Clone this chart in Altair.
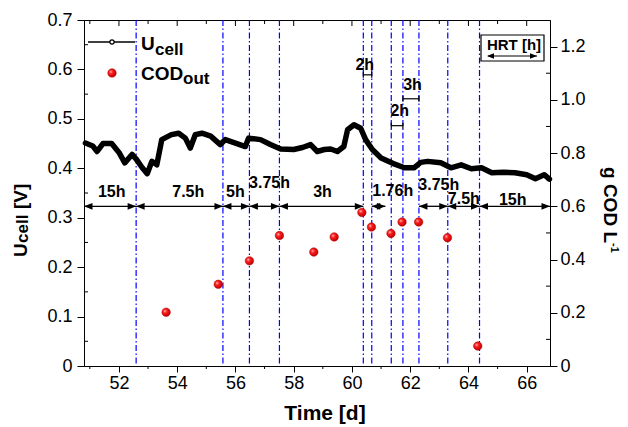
import altair as alt
import pandas as pd

# ---------------- data ----------------
u_days = [50.85, 51.1, 51.25, 51.45, 51.75, 52.0, 52.2, 52.45, 52.6, 52.8,
          52.97, 53.13, 53.3, 53.47, 53.8, 54.05, 54.28, 54.45, 54.62, 54.85,
          55.15, 55.48, 55.65, 56.0, 56.34, 56.45, 56.86, 57.2, 57.55, 58.0,
          58.3, 58.58, 58.81, 59.05, 59.27, 59.5, 59.72, 59.85, 60.07, 60.3,
          60.47, 60.7, 61.0, 61.4, 61.8, 62.13, 62.36, 62.6, 63.05, 63.4,
          63.75, 64.1, 64.45, 64.8, 65.2, 65.6, 66.0, 66.3, 66.6, 66.78]
u_cell = [0.451, 0.445, 0.434, 0.450, 0.450, 0.432, 0.411, 0.428, 0.418, 0.401,
          0.389, 0.414, 0.407, 0.458, 0.468, 0.471, 0.461, 0.441, 0.468, 0.471,
          0.465, 0.448, 0.458, 0.451, 0.444, 0.461, 0.458, 0.448, 0.439, 0.438,
          0.442, 0.448, 0.434, 0.438, 0.439, 0.434, 0.444, 0.478, 0.488, 0.481,
          0.458, 0.438, 0.421, 0.410, 0.401, 0.401, 0.412, 0.414, 0.411, 0.401,
          0.407, 0.399, 0.401, 0.391, 0.392, 0.391, 0.387, 0.379, 0.387, 0.378]

cod_days = [53.62, 55.41, 56.48, 57.51, 58.69, 59.39, 60.34, 60.67, 61.34,
            61.72, 62.29, 63.28, 64.32]
cod_out = [0.202, 0.307, 0.395, 0.490, 0.428, 0.485, 0.577, 0.522, 0.498,
           0.541, 0.541, 0.482, 0.075]

hrt_change_days = [52.59, 55.57, 56.48, 57.51, 60.39, 60.68, 61.35, 61.75,
                   62.30, 63.29, 64.38]

# HRT periods drawn as double arrows (g COD/L scale level 0.6)
period_start = [50.8, 52.59, 55.57, 56.48, 57.51, 60.68, 62.30, 63.29, 64.38]
period_end = [52.59, 55.57, 56.48, 57.51, 60.39, 61.15, 63.29, 64.38, 66.8]
period_label = ["15h", "7.5h", "5h", "3.75h", "3h", "1.76h", "3.75h", "7.5h", "15h"]
period_level = 0.6
# label anchors (data coordinates)
period_label_day = [51.75, 54.38, 56.0, 57.17, 58.99, 61.40, 62.98, 63.84, 65.52]
period_label_lvl = [0.652, 0.652, 0.652, 0.689, 0.652, 0.657, 0.679, 0.626, 0.622]

# short periods drawn as small brackets
short_start = [60.39, 61.35, 61.75]
short_end = [60.68, 61.75, 62.30]
short_label = ["2h", "2h", "3h"]
short_level = [1.094, 0.903, 1.004]
short_label_day = [60.44, 61.64, 62.08]
short_label_lvl = [1.131, 0.957, 1.054]

x_ticks = [52, 54, 56, 58, 60, 62, 64, 66]
x_minor = [51, 53, 55, 57, 59, 61, 63, 65]
left_ticks = [0, 0.1, 0.2, 0.3, 0.4, 0.5, 0.6, 0.7]
left_minor = [0.05, 0.15, 0.25, 0.35, 0.45, 0.55, 0.65]
right_ticks = [0, 0.2, 0.4, 0.6, 0.8, 1.0, 1.2]
right_minor = [0.1, 0.3, 0.5, 0.7, 0.9, 1.1]

assert len(u_days) == len(u_cell)

# ---------------- styling ----------------
W, H = 466, 346
FONT = "Liberation Sans"
BLUE = "#0000ff"
RIGHT_ARROW = "M0,0L-1,-0.4L-1,0.4Z"
LEFT_ARROW = "M0,0L1,-0.4L1,0.4Z"
VBAR = "M0,-1L0,1"

xscale = alt.Scale(domain=[50.8, 66.8], nice=False, zero=False)
yL = alt.Scale(domain=[0, 0.7], nice=False, zero=False)
yR = alt.Scale(domain=[0, 1.3], nice=False, zero=False)

x_axis = alt.Axis(values=x_ticks, format="d", tickSize=6, labelPadding=2,
                  title=None, grid=False)
left_axis = alt.Axis(orient="left", values=left_ticks, tickSize=7, labelPadding=5,
                     labelExpr="datum.value == 0 ? '0' : format(datum.value, '.1f')",
                     title=None, grid=False)
right_axis = alt.Axis(orient="right", values=right_ticks, tickSize=7, labelPadding=3,
                      labelExpr="datum.value == 0 ? '0' : format(datum.value, '.1f')",
                      title=None, grid=False)

X = lambda f: alt.X(f, scale=xscale, axis=x_axis)
YL = lambda f: alt.Y(f, scale=yL, axis=left_axis)
YR = lambda f: alt.Y(f, scale=yR, axis=right_axis)

one = pd.DataFrame({"k": [0]})


def txt(s, x, y, size, bold=True, angle=0, align="left", baseline="alphabetic"):
    kw = dict(text=s, font=FONT, fontSize=size, fontWeight="bold" if bold else "normal",
              align=align, baseline=baseline, color="black")
    if angle:
        kw["angle"] = angle
    return alt.Chart(one).mark_text(**kw).encode(x=alt.value(x), y=alt.value(y))


# ---------------- left (Ucell) group ----------------
vlines = alt.Chart(pd.DataFrame({"d": hrt_change_days})).mark_rule(
    color=BLUE, strokeWidth=1.2, strokeDash=[6, 2.5, 1.5, 2.5]
).encode(x=X("d:Q"))

u_df = pd.DataFrame({"day": u_days, "u": u_cell})
uline = alt.Chart(u_df).mark_line(
    color="black", strokeWidth=5.5, strokeJoin="round", strokeCap="round"
).encode(x=X("day:Q"), y=YL("u:Q"))

lminor = alt.Chart(pd.DataFrame({"u": left_minor})).mark_rule(color="black").encode(
    y=YL("u:Q"), x=alt.value(0), x2=alt.value(4))

top_major = alt.Chart(pd.DataFrame({"day": x_ticks})).mark_rule(color="black").encode(
    x=X("day:Q"), y=alt.value(0), y2=alt.value(6))
top_minor = alt.Chart(pd.DataFrame({"day": x_minor})).mark_rule(color="black").encode(
    x=X("day:Q"), y=alt.value(0), y2=alt.value(4))
bot_minor = alt.Chart(pd.DataFrame({"day": x_minor})).mark_rule(color="black").encode(
    x=X("day:Q"), y=alt.value(H), y2=alt.value(H + 3))

left_group = alt.layer(vlines, uline, lminor, top_major, top_minor, bot_minor)

# ---------------- right (COD) group ----------------
grad = {"gradient": "radial", "x1": 0.35, "y1": 0.35, "r1": 0.0,
        "x2": 0.4, "y2": 0.4, "r2": 0.6,
        "stops": [{"offset": 0, "color": "#ffd0d0"},
                  {"offset": 0.35, "color": "#ff2020"},
                  {"offset": 1, "color": "#c00000"}]}

cod_df = pd.DataFrame({"day": cod_days, "v": cod_out})
cod_pts = alt.Chart(cod_df).mark_point(
    shape="circle", filled=True, fill=grad, size=72, opacity=1, stroke="#b00000", strokeWidth=0.5
).encode(x=X("day:Q"), y=YR("v:Q"))

per_df = pd.DataFrame({"s": period_start, "e": period_end, "lvl": [period_level] * len(period_start),
                       "label": period_label, "lx": period_label_day, "ly": period_label_lvl})
per_rule = alt.Chart(per_df).mark_rule(color="black", strokeWidth=1.3).encode(
    x=X("s:Q"), x2="e:Q", y=YR("lvl:Q"))
per_head_r = alt.Chart(per_df).mark_point(shape=RIGHT_ARROW, filled=True, color="black",
                                          size=289, opacity=1).encode(x=X("e:Q"), y=YR("lvl:Q"))
per_head_l = alt.Chart(per_df).mark_point(shape=LEFT_ARROW, filled=True, color="black",
                                          size=289, opacity=1).encode(x=X("s:Q"), y=YR("lvl:Q"))
per_text = alt.Chart(per_df).mark_text(font=FONT, fontSize=16, fontWeight="bold",
                                       align="center", baseline="middle", color="black").encode(
    x=X("lx:Q"), y=YR("ly:Q"), text="label:N")

sh_df = pd.DataFrame({"s": short_start, "e": short_end, "lvl": short_level,
                      "label": short_label, "lx": short_label_day, "ly": short_label_lvl})
sh_rule = alt.Chart(sh_df).mark_rule(color="black", strokeWidth=1.2).encode(
    x=X("s:Q"), x2="e:Q", y=YR("lvl:Q"))
sh_end_a = alt.Chart(sh_df).mark_point(shape=VBAR, filled=False, color="black", size=36,
                                       strokeWidth=1.2, opacity=1).encode(x=X("s:Q"), y=YR("lvl:Q"))
sh_end_b = alt.Chart(sh_df).mark_point(shape=VBAR, filled=False, color="black", size=36,
                                       strokeWidth=1.2, opacity=1).encode(x=X("e:Q"), y=YR("lvl:Q"))
sh_text = alt.Chart(sh_df).mark_text(font=FONT, fontSize=16, fontWeight="bold",
                                     align="center", baseline="middle", color="black").encode(
    x=X("lx:Q"), y=YR("ly:Q"), text="label:N")

rminor = alt.Chart(pd.DataFrame({"v": right_minor})).mark_rule(color="black").encode(
    y=YR("v:Q"), x=alt.value(W - 4), x2=alt.value(W))

# legend
leg_line = alt.Chart(one).mark_rule(color="black", strokeWidth=1.5).encode(
    x=alt.value(4), x2=alt.value(51), y=alt.value(22))
leg_circ = alt.Chart(one).mark_point(shape="circle", filled=True, fill="white", stroke="black",
                                     strokeWidth=1.2, size=18, opacity=1).encode(
    x=alt.value(28), y=alt.value(22))
leg_red = alt.Chart(one).mark_point(shape="circle", filled=True, fill=grad, stroke="#b00000",
                                    strokeWidth=0.5, size=72, opacity=1).encode(
    x=alt.value(28), y=alt.value(53))
leg_texts = [txt("U", 57, 30, 19), txt("cell", 71, 35, 17),
             txt("COD", 57, 60, 19), txt("out", 99, 64, 17)]

# HRT [h] box
box = alt.Chart(one).mark_rect(fillOpacity=0, stroke="black", strokeWidth=1.2).encode(
    x=alt.value(397), x2=alt.value(460), y=alt.value(15), y2=alt.value(41))
box_text = txt("HRT [h]", 430, 30, 15, align="center")
box_rule = alt.Chart(one).mark_rule(color="black", strokeWidth=1.2).encode(
    x=alt.value(404), x2=alt.value(453), y=alt.value(36))
box_hr = alt.Chart(one).mark_point(shape=RIGHT_ARROW, filled=True, color="black", size=196,
                                   opacity=1).encode(x=alt.value(453), y=alt.value(36))
box_hl = alt.Chart(one).mark_point(shape=LEFT_ARROW, filled=True, color="black", size=196,
                                   opacity=1).encode(x=alt.value(403), y=alt.value(36))

# axis titles
titles = [
    txt("Time [d]", 241, 400, 21, align="center"),
    txt("U", -57.3, 237, 19, angle=270),
    txt("cell", -55.7, 223, 17, angle=270),
    txt("[V]", -57.3, 189, 19, angle=270),
    txt("g COD L", 520, 147, 19, angle=90),
    txt("-1", 527, 223, 11, angle=90),
]

right_group = alt.layer(cod_pts, per_rule, per_head_r, per_head_l, per_text,
                        sh_rule, sh_end_a, sh_end_b, sh_text, rminor,
                        leg_line, leg_circ, leg_red, *leg_texts,
                        box, box_text, box_rule, box_hr, box_hl, *titles)

chart = alt.layer(left_group, right_group).resolve_scale(y="independent").properties(
    width=W, height=H,
    autosize=alt.AutoSizeParams(type="none"),
    padding={"left": 76, "top": 12, "right": 70, "bottom": 59},
    background="white",
).configure_view(stroke="black", strokeWidth=1).configure_axis(
    domainColor="black", tickColor="black", labelColor="black",
    labelFont=FONT, labelFontSize=18, domainWidth=1, tickWidth=1,
)

chart.save("out.html", embed_options={"renderer": "svg", "actions": False})
